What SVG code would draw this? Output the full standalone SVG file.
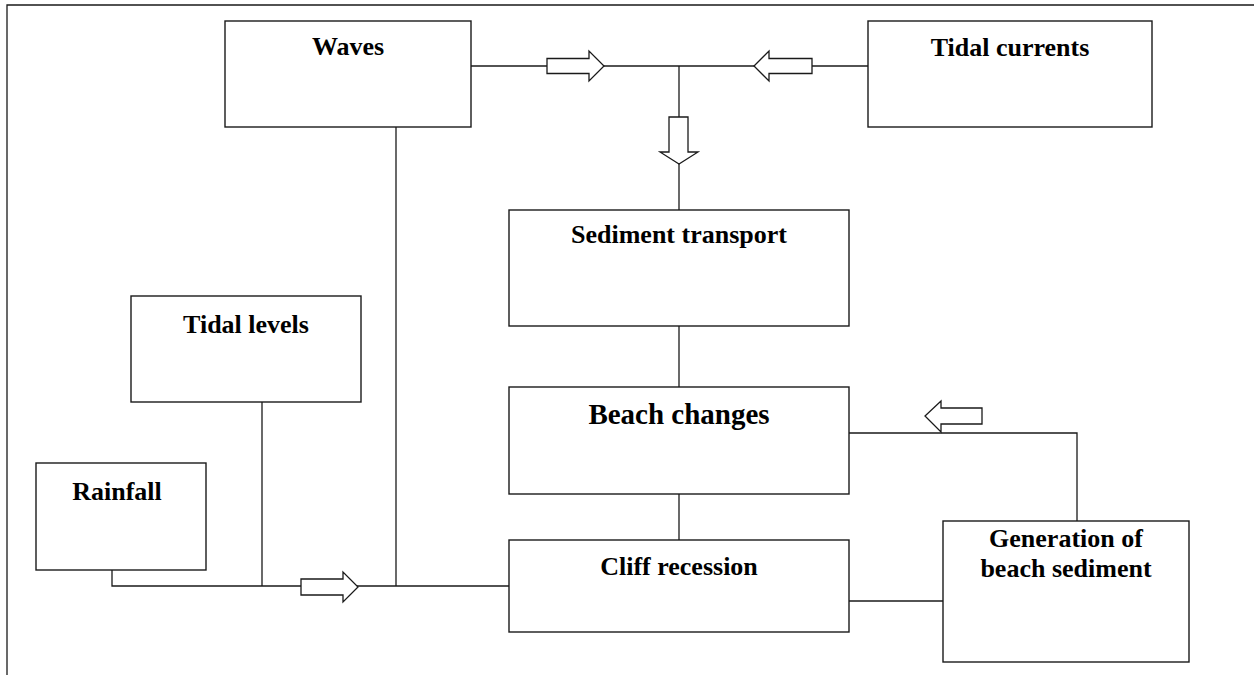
<svg xmlns="http://www.w3.org/2000/svg" width="1254" height="675" viewBox="0 0 1254 675">
<style>
.box{fill:#fff;stroke:#1a1a1a;stroke-width:1.4}
.ln{fill:none;stroke:#1a1a1a;stroke-width:1.3}
.arr{fill:#fff;stroke:#1a1a1a;stroke-width:1.3;stroke-linejoin:miter}
.t{font-family:"Liberation Serif","Times New Roman",serif;font-weight:bold;font-size:26px;fill:#000;text-anchor:middle}
.big{font-size:29px}
</style>
<rect width="1254" height="675" fill="#fff"/>
<g id="frame">
<path class="ln" d="M7,675 V5 H1254"/>
</g>
<g id="connectors">
<path class="ln" d="M471,66 H868"/>
<path class="ln" d="M679,66 V210"/>
<path class="ln" d="M679,326 V387"/>
<path class="ln" d="M679,494 V540"/>
<path class="ln" d="M849,433 H1077 V521"/>
<path class="ln" d="M849,601 H943"/>
<path class="ln" d="M396,127 V586"/>
<path class="ln" d="M262,402 V586"/>
<path class="ln" d="M112,570 V586 H509"/>
<polygon class="arr" points="547,58.5 589,58.5 589,51 604,66 589,81 589,73.5 547,73.5"/>
<polygon class="arr" points="812,58.5 769,58.5 769,51 754,66 769,81 769,73.5 812,73.5"/>
<polygon class="arr" points="669,117 688,117 688,152 698,152 679,164 660,152 669,152"/>
<polygon class="arr" points="301,579 343,579 343,572 358,587 343,602 343,595 301,595"/>
<polygon class="arr" points="982,408 941,408 941,401 925,416 941,432 941,424 982,424"/>
</g>
<g id="waves">
<rect class="box" x="225" y="21" width="246" height="106"/>
<text class="t" x="348" y="55">Waves</text>
</g>
<g id="tidal-currents">
<rect class="box" x="868" y="21" width="284" height="106"/>
<text class="t" x="1010" y="56">Tidal currents</text>
</g>
<g id="sediment-transport">
<rect class="box" x="509" y="210" width="340" height="116"/>
<text class="t" x="679" y="243">Sediment transport</text>
</g>
<g id="beach-changes">
<rect class="box" x="509" y="387" width="340" height="107"/>
<text class="t big" x="679" y="424">Beach changes</text>
</g>
<g id="cliff-recession">
<rect class="box" x="509" y="540" width="340" height="92"/>
<text class="t" x="679" y="575">Cliff recession</text>
</g>
<g id="generation">
<rect class="box" x="943" y="521" width="246" height="141"/>
<text class="t" x="1066" y="547">Generation of</text>
<text class="t" x="1066" y="577">beach sediment</text>
</g>
<g id="tidal-levels">
<rect class="box" x="131" y="296" width="230" height="106"/>
<text class="t" x="246" y="333">Tidal levels</text>
</g>
<g id="rainfall">
<rect class="box" x="36" y="463" width="170" height="107"/>
<text class="t" x="117" y="500">Rainfall</text>
</g>
</svg>
